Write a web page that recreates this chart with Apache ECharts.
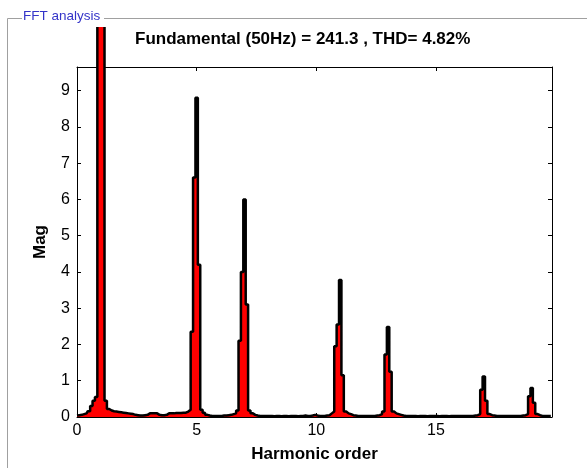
<!DOCTYPE html>
<html>
<head>
<meta charset="utf-8">
<script src="https://cdn.jsdelivr.net/npm/echarts@6/dist/echarts.min.js"></script>
<style>
html, body { margin: 0; padding: 0; background: #fff; }
#main { width: 587px; height: 468px; }
</style>
</head>
<body>
<div id="main"></div>
<script>
// spectrum bins, 0.1 harmonic order apart; one array per order (x.0 ... x.9)
const binStep = 0.1;
const magH0 = [0.04, 0.05, 0.06, 0.08, 0.10, 0.16, 0.30, 0.45, 0.55, 31.5];
const magH1 = [241.3, 27.2, 0.45, 0.22, 0.18, 0.16, 0.15, 0.14, 0.13, 0.12];
const magH2 = [0.11, 0.10, 0.09, 0.08, 0.06, 0.05, 0.04, 0.04, 0.05, 0.06];
const magH3 = [0.10, 0.10, 0.10, 0.10, 0.06, 0.05, 0.05, 0.06, 0.10, 0.10];
const magH4 = [0.10, 0.11, 0.11, 0.11, 0.12, 0.12, 0.15, 0.20, 2.35, 6.60];
const magH5 = [8.80, 4.20, 0.20, 0.12, 0.06, 0.04, 0.03, 0.03, 0.03, 0.03];
const magH6 = [0.03, 0.04, 0.04, 0.05, 0.06, 0.08, 0.10, 0.18, 2.10, 4.00];
const magH7 = [6.00, 3.10, 0.18, 0.10, 0.06, 0.04, 0.03, 0.03, 0.03, 0.03];
const magH8 = [0.03, 0.03, 0.02, 0.03, 0.03, 0.02, 0.03, 0.03, 0.02, 0.03];
const magH9 = [0.03, 0.03, 0.02, 0.03, 0.03, 0.04, 0.03, 0.03, 0.04, 0.06];
const magH10 = [0.04, 0.03, 0.03, 0.03, 0.04, 0.05, 0.10, 0.15, 1.95, 2.55];
const magH11 = [3.78, 1.15, 0.15, 0.10, 0.08, 0.05, 0.04, 0.03, 0.03, 0.03];
const magH12 = [0.03, 0.03, 0.03, 0.03, 0.03, 0.04, 0.05, 0.08, 0.15, 1.72];
const magH13 = [2.48, 1.25, 0.15, 0.10, 0.08, 0.06, 0.04, 0.03, 0.03, 0.03];
const magH14 = [0.03, 0.03, 0.02, 0.03, 0.03, 0.03, 0.02, 0.03, 0.03, 0.03];
const magH15 = [0.03, 0.02, 0.03, 0.03, 0.03, 0.02, 0.03, 0.03, 0.03, 0.03];
const magH16 = [0.03, 0.03, 0.03, 0.03, 0.03, 0.03, 0.04, 0.05, 0.08, 0.75];
const magH17 = [1.12, 0.45, 0.08, 0.05, 0.04, 0.03, 0.03, 0.03, 0.03, 0.03];
const magH18 = [0.03, 0.03, 0.03, 0.03, 0.03, 0.03, 0.04, 0.05, 0.08, 0.57];
const magH19 = [0.80, 0.39, 0.08, 0.05, 0.03, 0.03, 0.03, 0.03, 0.03];

const mag = [].concat(magH0, magH1, magH2, magH3, magH4, magH5, magH6, magH7,
    magH8, magH9, magH10, magH11, magH12, magH13, magH14, magH15, magH16,
    magH17, magH18, magH19);
const spectrum = mag.map((v, i) => [+(i * binStep).toFixed(1), v]);

const fundamental = 241.3;
const thd = 4.82;

const font = 'Liberation Sans';
const xMax = 19.85;
const yMax = 9.65;

let myChart = echarts.init(document.getElementById('main'));

const tickIn = { show: true, inside: true, length: 4, lineStyle: { color: '#000' } };
const lineBlack = { show: true, onZero: false, lineStyle: { color: '#000', width: 1 } };

myChart.setOption({
    animation: false,
    backgroundColor: '#fff',
    title: {
        text: 'Fundamental (50Hz) = ' + fundamental + ' , THD= ' + thd + '%',
        left: 135,
        top: 31,
        padding: 0,
        textStyle: { fontFamily: font, fontSize: 17, fontWeight: 'bold', color: '#000' }
    },
    graphic: [
        // the fundamental runs off the axes; the panel cuts it just under its frame
        {
            type: 'rect', z: 100,
            shape: { x: 0, y: 0, width: 587, height: 27 },
            style: { fill: '#fff' }
        },
        {
            type: 'polyline', z: 101,
            shape: { points: [[22, 18.5], [7.5, 18.5], [7.5, 468]] },
            style: { stroke: '#a0a0a0', lineWidth: 1, fill: null }
        },
        {
            type: 'line', z: 101,
            shape: { x1: 104, y1: 18.5, x2: 587, y2: 18.5 },
            style: { stroke: '#a0a0a0', lineWidth: 1 }
        },
        {
            type: 'text', z: 101,
            x: 23,
            y: 9,
            style: { text: 'FFT analysis', font: '13.5px "Liberation Sans"', fill: '#3434c8' }
        }
    ],
    grid: { left: 77, right: 35, top: 67, bottom: 47 },
    xAxis: [
        {
            type: 'value', min: 0, max: xMax, interval: 5,
            axisLine: lineBlack, axisTick: tickIn, splitLine: { show: false },
            axisLabel: { fontFamily: font, fontSize: 16, color: '#000', margin: 6, showMaxLabel: false },
            name: 'Harmonic order', nameLocation: 'middle', nameGap: 29,
            nameTextStyle: { fontFamily: font, fontSize: 17, fontWeight: 'bold', color: '#000' }
        },
        {
            type: 'value', position: 'top', min: 0, max: xMax, interval: 5,
            axisLine: lineBlack, axisTick: tickIn, splitLine: { show: false },
            axisLabel: { show: false }
        }
    ],
    yAxis: [
        {
            type: 'value', min: 0, max: yMax, interval: 1,
            axisLine: lineBlack, axisTick: tickIn, splitLine: { show: false },
            axisLabel: { fontFamily: font, fontSize: 16, color: '#000', margin: 7, showMaxLabel: false },
            name: 'Mag', nameLocation: 'middle', nameGap: 28,
            nameTextStyle: { fontFamily: font, fontSize: 17, fontWeight: 'bold', color: '#000' }
        },
        {
            type: 'value', position: 'right', min: 0, max: yMax, interval: 1,
            axisLine: lineBlack, axisTick: tickIn, splitLine: { show: false },
            axisLabel: { show: false }
        }
    ],
    series: [{
        type: 'line',
        xAxisIndex: 0,
        yAxisIndex: 0,
        step: 'middle',
        symbol: 'none',
        clip: false,
        data: spectrum,
        lineStyle: { color: '#000', width: 2.5 },
        areaStyle: { color: '#ff0000', opacity: 1 },
        z: 3
    }]
});
</script>
</body>
</html>
